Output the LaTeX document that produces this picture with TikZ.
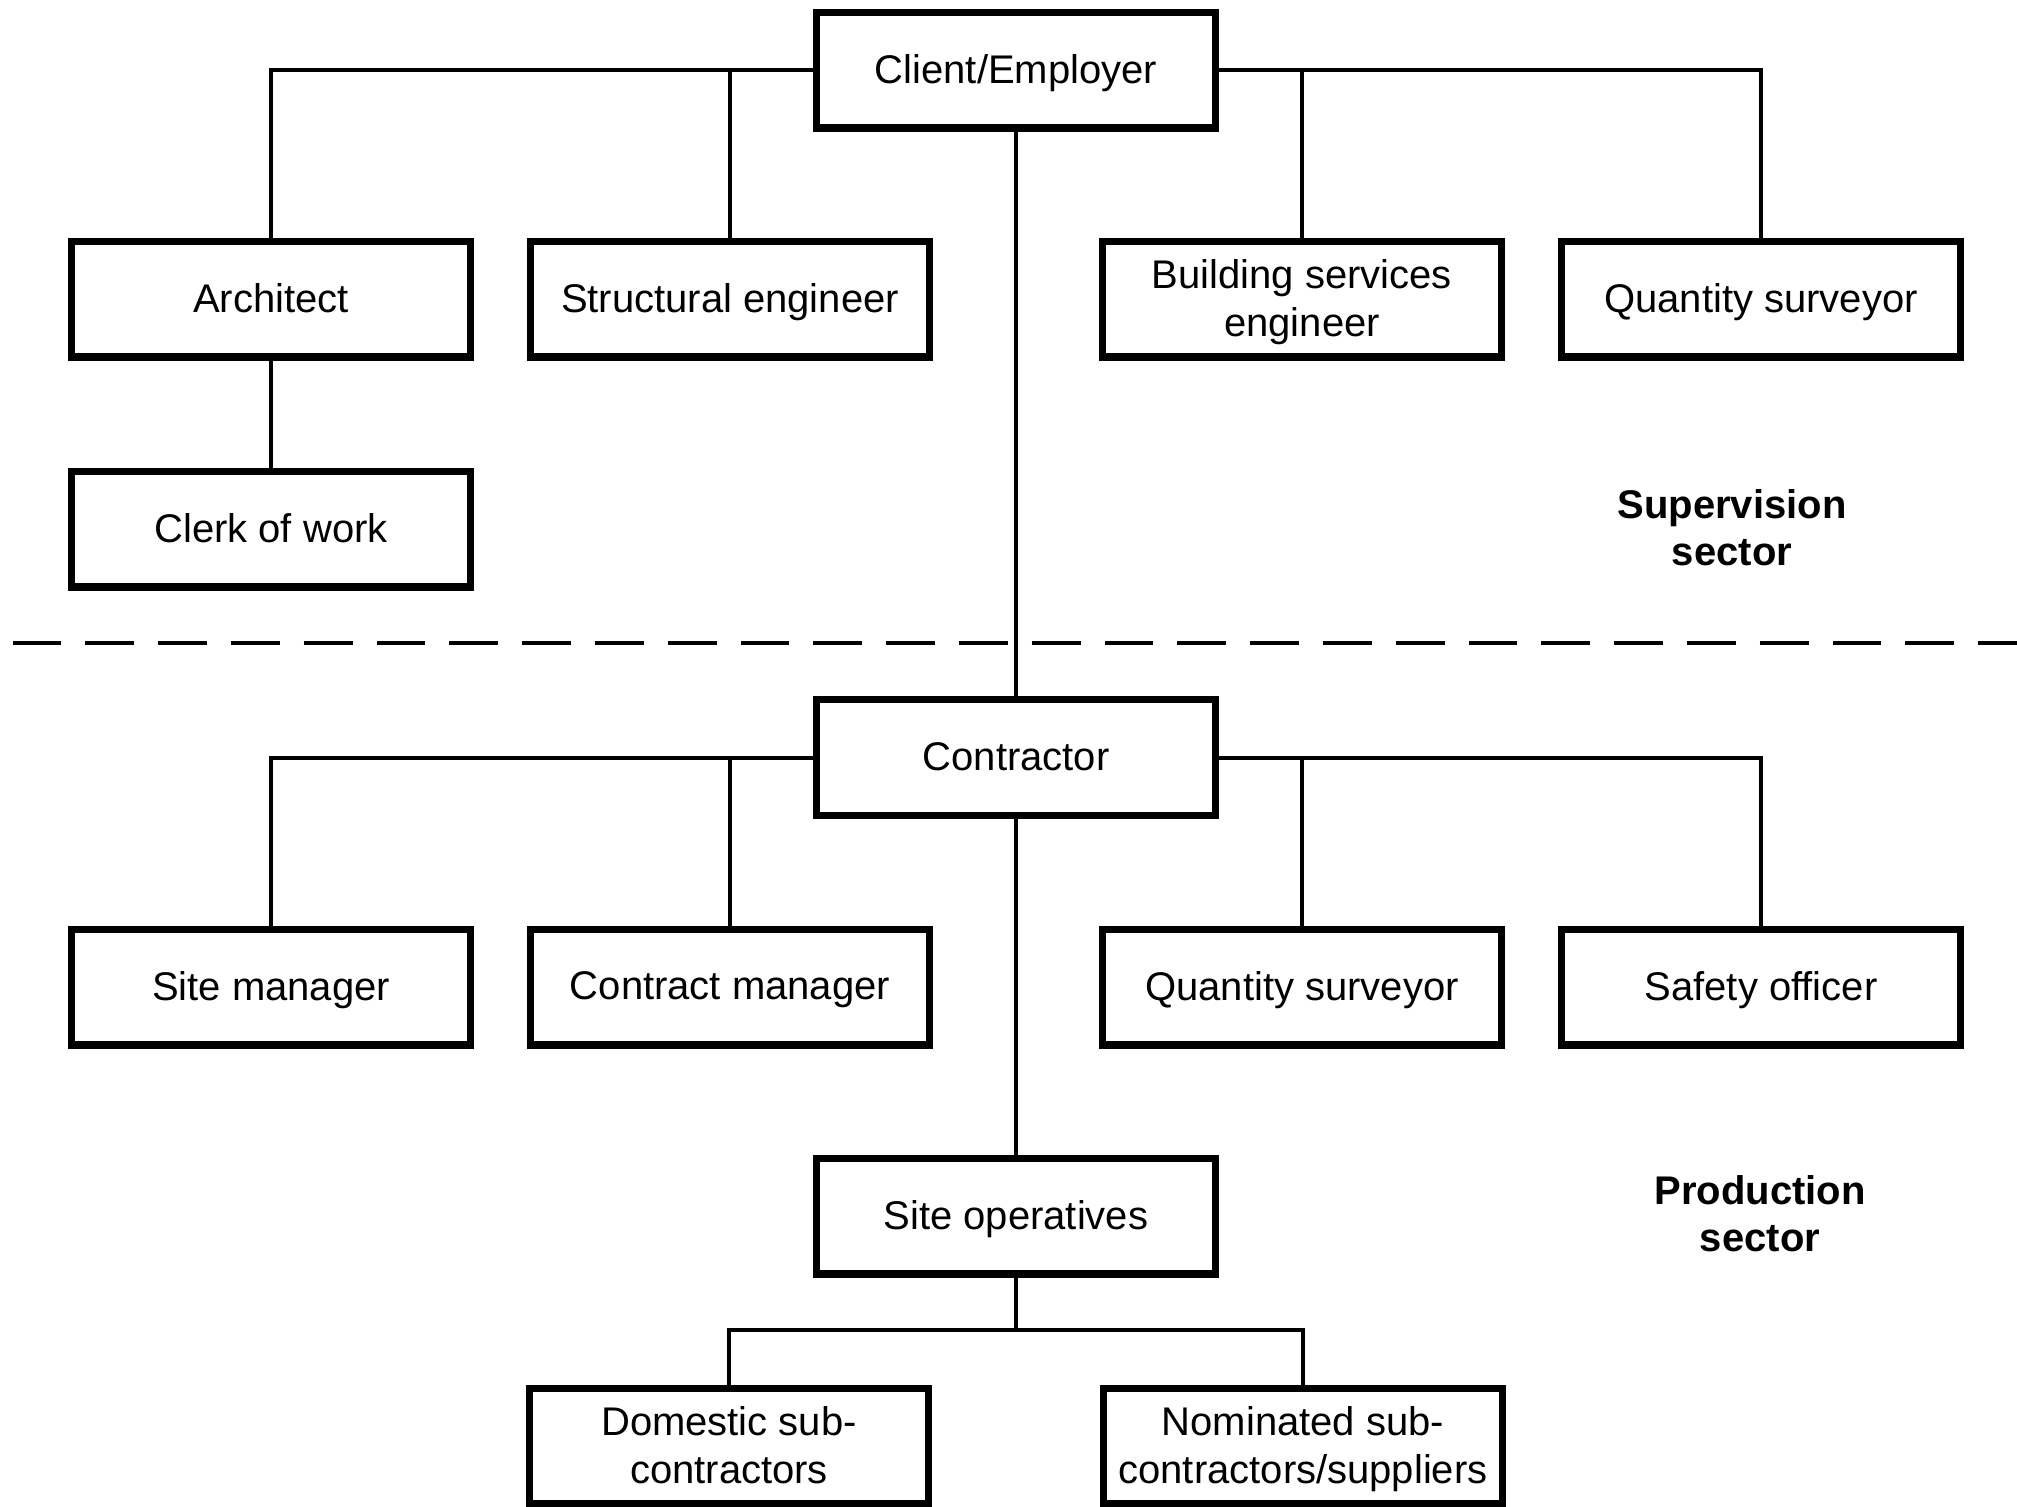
\documentclass[tikz,border=0pt]{standalone}
\usepackage{fontspec}
\setmainfont{Liberation Sans}
\begin{document}
\begin{tikzpicture}[x=0.5pt,y=-0.5pt,
  orgbox/.style={draw=black, line width=3.7pt, fill=white, minimum width=199.3pt, minimum height=57.8pt, align=center, inner sep=0pt, text depth=1pt, font=\fontsize{20}{24}\selectfont},
  link/.style={draw=black, line width=2pt},
  sector/.style={align=center, font=\fontsize{20}{23.5}\selectfont\bfseries}]
\useasboundingbox (0,0) rectangle (2017,1506);
% supervision sector
\node[orgbox] (client) at (1016,70) {Client/Employer};
\node[orgbox] (arch) at (271,299) {Architect};
\node[orgbox] (struct) at (730,299) {Structural engineer};
\node[orgbox] (bse) at (1302,299) {Building services\\engineer};
\node[orgbox] (qsa) at (1761,299) {Quantity surveyor};
\node[orgbox] (clerk) at (271,529) {Clerk of work};
\node[sector] (sup) at (1732,528) {Supervision\\sector};
% dashed divider
\draw[line width=2pt, dash pattern=on 24.4pt off 12pt] (12.5,643) -- (2030,643);
% production sector
\node[orgbox] (contr) at (1016,757.5) {Contractor};
\node[orgbox] (sitem) at (271,987) {Site manager};
\node[orgbox] (contm) at (730,987) {Contract manager};
\node[orgbox] (qsb) at (1302,987) {Quantity surveyor};
\node[orgbox] (safe) at (1761,987) {Safety officer};
\node[orgbox] (siteop) at (1016,1216) {Site operatives};
\node[orgbox] (dom) at (729,1446) {Domestic sub-\\contractors};
\node[orgbox] (nom) at (1303,1446) {Nominated sub-\\contractors/suppliers};
\node[sector] (prod) at (1760,1214) {Production\\sector};
\coordinate (sbus) at (1016,1330);
% connectors
\draw[link] (client.west) -| (arch.north);
\draw[link] (struct.north) -- (struct.north |- client.west);
\draw[link] (client.east) -| (qsa.north);
\draw[link] (bse.north) -- (bse.north |- client.east);
\draw[link] (arch.south) -- (clerk.north);
\draw[link] (client.south) -- (contr.north);
\draw[link] (contr.west) -| (sitem.north);
\draw[link] (contm.north) -- (contm.north |- contr.west);
\draw[link] (contr.east) -| (safe.north);
\draw[link] (qsb.north) -- (qsb.north |- contr.east);
\draw[link] (contr.south) -- (siteop.north);
\draw[link] (siteop.south) -- (sbus);
\draw[link] (dom.north) |- (sbus) -| (nom.north);
\end{tikzpicture}
\end{document}
